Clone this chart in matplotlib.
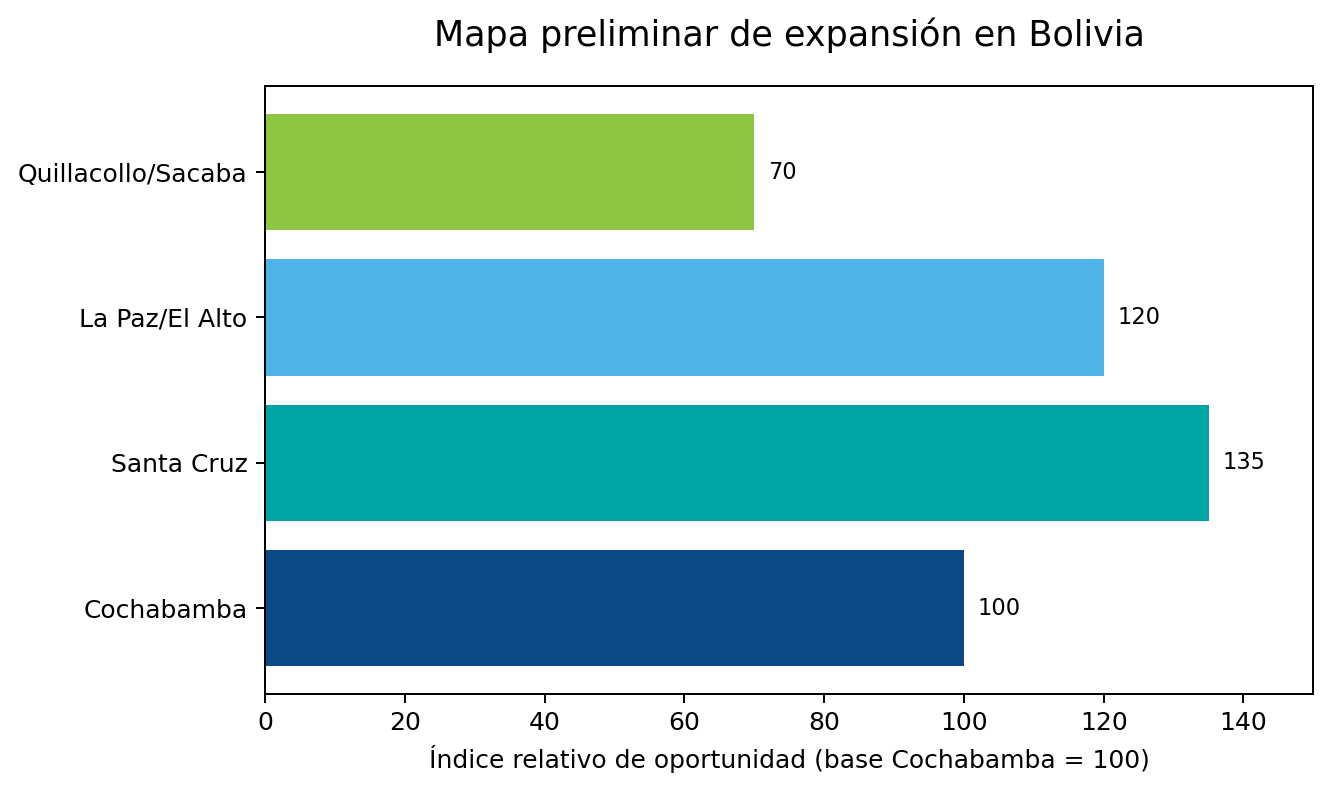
import matplotlib
matplotlib.use("Agg")
import matplotlib.pyplot as plt

categories = ["Cochabamba", "Santa Cruz", "La Paz/El Alto", "Quillacollo/Sacaba"]
values = [100, 135, 120, 70]
colors = ["#0C4A87", "#00A6A6", "#4DB5E8", "#8DC63F"]

fig, ax = plt.subplots(figsize=(7.4, 4.4), dpi=180)
fig.subplots_adjust(left=0.199, right=0.986, top=0.891, bottom=0.124)

bars = ax.barh(categories, values, color=colors, height=0.8)
for b, v in zip(bars, values):
    ax.text(v + 2, b.get_y() + b.get_height() / 2, f"{v}", va="center", ha="left", fontsize=9)

ax.set_xlim(0, 150)
ax.set_xlabel("Índice relativo de oportunidad (base Cochabamba = 100)")
ax.set_title("Mapa preliminar de expansión en Bolivia", fontsize=14, pad=16)

fig.savefig("out.png", dpi=180)
